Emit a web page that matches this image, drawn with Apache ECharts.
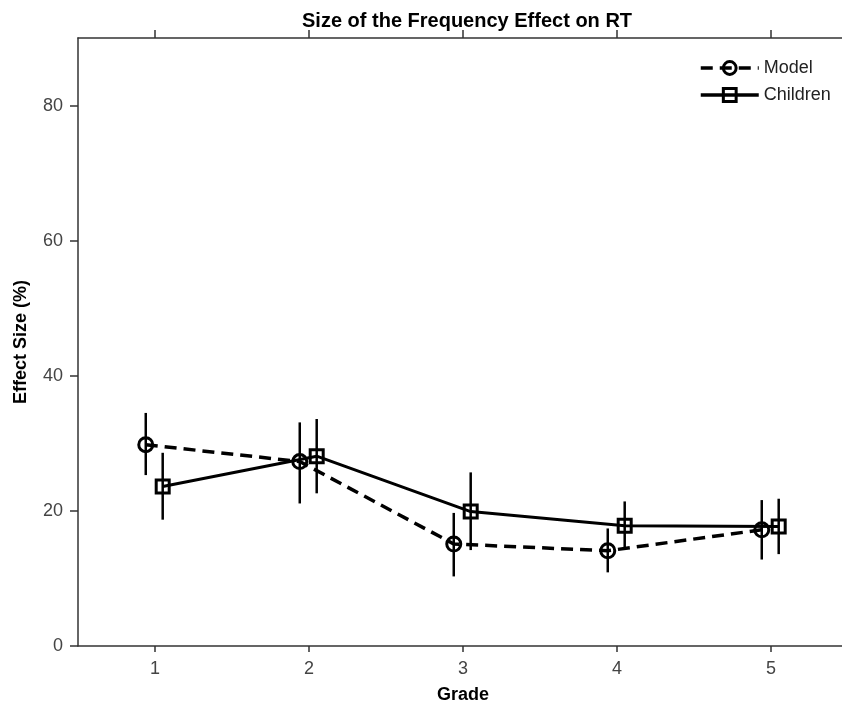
<!DOCTYPE html>
<html>
<head>
<meta charset="utf-8">
<script src="https://cdn.jsdelivr.net/npm/echarts@6/dist/echarts.min.js"></script>
<style>
  html, body { margin: 0; padding: 0; background: #fff; }
  #chart { width: 842px; height: 704px; }
</style>
</head>
<body>
<div id="chart"></div>
<script>
// grades on the x axis
const grades = [1, 2, 3, 4, 5];
const yTicks = [0, 20, 40, 60, 80];

// effect size (%) with error bar ends
const modelMean = [29.8, 27.3, 15.1, 14.1, 17.2];
const modelLow = [25.3, 21.1, 10.3, 10.9, 12.8];
const modelHigh = [34.5, 33.1, 19.7, 17.4, 21.6];

const childMean = [23.6, 28.1, 19.9, 17.8, 17.7];
const childLow = [18.7, 22.6, 14.2, 14.3, 13.6];
const childHigh = [28.6, 33.6, 25.7, 21.4, 21.8];

// small horizontal dodge so the two groups don't overlap
const dodgeModel = -0.06;
const dodgeChild = 0.05;

const chart = echarts.init(document.getElementById('chart'));

const errorBar = (params, api) => {
    const top = api.coord([api.value(0), api.value(2)]);
    const bot = api.coord([api.value(0), api.value(1)]);
    return {
        type: 'line',
        shape: { x1: top[0], y1: top[1], x2: bot[0], y2: bot[1] },
        style: { stroke: '#000', lineWidth: 2.5 }
    };
};

const axisLine = { show: true, lineStyle: { color: '#333', width: 1.5 } };
const txt = { fontFamily: 'Liberation Sans, Arial, sans-serif' };

const option = {
    animation: false,
    title: {
        text: 'Size of the Frequency Effect on RT',
        left: 297,
        top: 6,
        textStyle: Object.assign({ fontSize: 20, fontWeight: 'bold', color: '#000' }, txt)
    },
    legend: {
        data: ['Model', 'Children'],
        orient: 'vertical',
        left: 694,
        top: 54,
        itemWidth: 58,
        itemHeight: 16,
        itemGap: 9,
        lineStyle: { width: 3.5 },
        itemStyle: { borderWidth: 3 },
        textStyle: Object.assign({ fontSize: 18, color: '#222' }, txt)
    },
    grid: { left: 78, top: 38, width: 770, height: 608, outerBoundsMode: 'none' },
    xAxis: [
        {
            type: 'value',
            min: 0.5,
            max: 5.5,
            name: 'Grade',
            nameLocation: 'middle',
            nameGap: 40,
            nameTextStyle: Object.assign({ fontSize: 18, fontWeight: 'bold', color: '#000' }, txt),
            axisLine: axisLine,
            axisTick: { show: true, length: 6, customValues: grades, lineStyle: { color: '#333', width: 1.5 } },
            axisLabel: { margin: 14, fontSize: 18, color: '#444', customValues: grades, fontFamily: txt.fontFamily },
            splitLine: { show: false }
        },
        {
            type: 'value',
            position: 'top',
            min: 0.5,
            max: 5.5,
            axisLine: axisLine,
            axisTick: { show: true, length: 8, customValues: grades, lineStyle: { color: '#333', width: 1.5 } },
            axisLabel: { show: false },
            splitLine: { show: false }
        }
    ],
    yAxis: {
        type: 'value',
        min: 0,
        max: 90,
        name: 'Effect Size (%)',
        nameLocation: 'middle',
        nameGap: 48,
        nameTextStyle: Object.assign({ fontSize: 18, fontWeight: 'bold', color: '#000' }, txt),
        axisLine: axisLine,
        axisTick: { show: true, length: 8, customValues: yTicks, lineStyle: { color: '#333', width: 1.5 } },
        axisLabel: { margin: 15, fontSize: 18, color: '#444', customValues: yTicks, fontFamily: txt.fontFamily },
        splitLine: { show: false }
    },
    series: [
        {
            name: 'Model',
            type: 'line',
            data: grades.map((g, i) => [g + dodgeModel, modelMean[i]]),
            symbol: 'circle',
            symbolSize: 14,
            itemStyle: { color: 'rgba(0,0,0,0)', borderColor: '#000', borderWidth: 3 },
            lineStyle: { color: '#000', width: 3.5, type: [12, 7] },
            z: 3
        },
        {
            name: 'Children',
            type: 'line',
            data: grades.map((g, i) => [g + dodgeChild, childMean[i]]),
            symbol: 'rect',
            symbolSize: 13,
            itemStyle: { color: 'rgba(0,0,0,0)', borderColor: '#000', borderWidth: 3 },
            lineStyle: { color: '#000', width: 3 },
            z: 3
        },
        {
            name: 'modelErr',
            type: 'custom',
            renderItem: errorBar,
            data: grades.map((g, i) => [g + dodgeModel, modelLow[i], modelHigh[i]]),
            z: 2
        },
        {
            name: 'childErr',
            type: 'custom',
            renderItem: errorBar,
            data: grades.map((g, i) => [g + dodgeChild, childLow[i], childHigh[i]]),
            z: 2
        }
    ]
};

chart.setOption(option);
</script>
</body>
</html>
